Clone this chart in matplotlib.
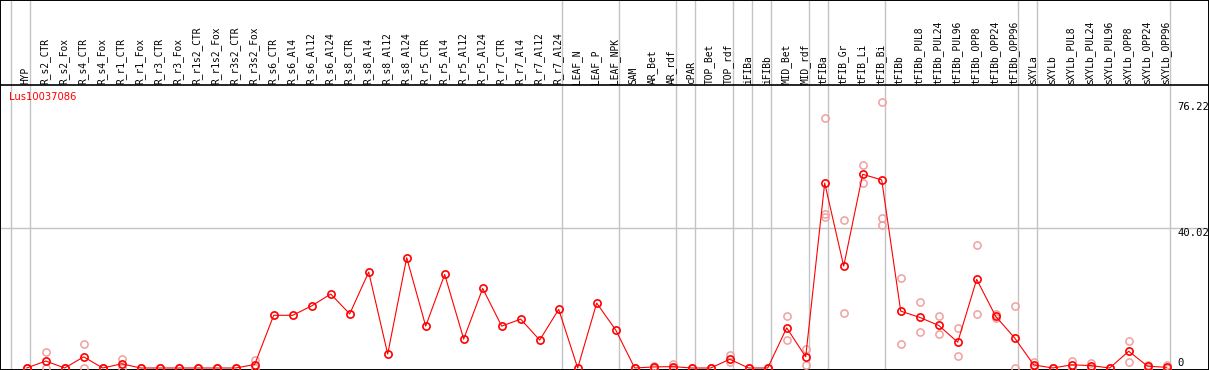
import matplotlib
matplotlib.use("Agg")
import matplotlib.pyplot as plt
import matplotlib.transforms as mtransforms

# sample columns, left to right
samples = [
    "HYP",
    "R_s2_CTR", "R_s2_Fox", "R_s4_CTR", "R_s4_Fox", "R_r1_CTR", "R_r1_Fox",
    "R_r3_CTR", "R_r3_Fox", "R_r1s2_CTR", "R_r1s2_Fox", "R_r3s2_CTR", "R_r3s2_Fox",
    "R_s6_CTR", "R_s6_Al4", "R_s6_Al12", "R_s6_Al24",
    "R_s8_CTR", "R_s8_Al4", "R_s8_Al12", "R_s8_Al24",
    "R_r5_CTR", "R_r5_Al4", "R_r5_Al12", "R_r5_Al24",
    "R_r7_CTR", "R_r7_Al4", "R_r7_Al12", "R_r7_Al24",
    "LEAF_N", "LEAF_P", "LEAF_NPK",
    "SAM", "AR_Bet", "AR_rdf",
    "cPAR",
    "TOP_Bet", "TOP_rdf",
    "iFIBa",
    "iFIBb",
    "MID_Bet", "MID_rdf",
    "tFIBa",
    "tFIB_Gr", "tFIB_Li", "tFIB_Bi",
    "tFIBb", "tFIBb_PUL8", "tFIBb_PUL24", "tFIBb_PUL96",
    "tFIBb_OPP8", "tFIBb_OPP24", "tFIBb_OPP96",
    "sXYLa",
    "sXYLb", "sXYLb_PUL8", "sXYLb_PUL24", "sXYLb_PUL96",
    "sXYLb_OPP8", "sXYLb_OPP24", "sXYLb_OPP96",
]

# how many columns in each tissue group (grey separators between groups)
group_sizes = [1, 28, 3, 3, 1, 2, 1, 1, 2, 1, 3, 7, 1, 7]

# mean expression per sample (the red line)
means = [
    0.0,
    2.0, 0.0, 3.2, 0.0, 1.2, 0.0,
    0.0, 0.0, 0.0, 0.0, 0.0, 1.0,
    15.1, 15.1, 17.8, 21.2,
    15.5, 27.5, 4.0, 31.6,
    12.0, 26.8, 8.3, 22.8,
    12.0, 14.0, 8.0, 16.8,
    0.0, 18.6, 10.9,
    0.0, 0.3, 0.4,
    0.0,
    0.0, 2.5,
    0.0,
    0.0,
    11.5, 3.2,
    53.0,
    29.2, 55.5, 53.9,
    16.3, 14.5, 12.2, 7.4,
    25.4, 14.8, 8.6,
    0.9,
    0.0, 0.9, 0.7, 0.0,
    4.8, 0.5, 0.2,
]

# individual replicates (pale circles)
replicates = [
    [0, 0],
    [4.6, 0], [0, 0], [6.8, 0], [0, 0], [2.7, 0], [0, 0],
    [0, 0], [0, 0], [0, 0], [0, 0], [0, 0], [2.3, 0],
    [], [], [], [],
    [], [], [], [],
    [], [], [], [],
    [], [], [], [],
    [], [], [],
    [0, 0], [0.5, 0.1], [1.2, 0],
    [0, 0],
    [0, 0], [3.6, 1.6],
    [0, 0],
    [0, 0],
    [14.8, 8.0], [5.5, 0.8],
    [71.5, 44.0, 43.4],
    [42.3, 15.8], [58.1, 52.9], [76.22, 43.1, 41.1],
    [25.7, 6.8], [18.8, 10.2], [14.8, 9.7], [11.4, 3.4],
    [35.2, 15.4], [15.5, 14.2], [17.7, 0.0],
    [1.8, 0.4],
    [0, 0], [2.0, 0], [1.5, 0], [0, 0],
    [7.7, 1.8], [0.9, 0.1], [0.8, 0],
]

gene = "Lus10037086"
y_ticks = [76.22, 40.02, 0]

# figure: 1209 x 370 px, one axes covering all of it
W, H = 1209, 370
fig = plt.figure(figsize=(W / 100, H / 100), dpi=100)
ax = fig.add_axes([0, 0, 1, 1])

col_px, x0_px = 19.0, 26.7          # column pitch and first column centre
ppu, zero_px = 3.49, 2.0            # pixels per unit, baseline above bottom
ax.set_xlim(-x0_px / col_px, (W - x0_px) / col_px)
ax.set_ylim(-zero_px / ppu, (H - zero_px) / ppu)
ax.set_xticks([])
ax.set_yticks([])
for s in ax.spines.values():
    s.set_color("black")
    s.set_linewidth(1.4)

red = "#ff0000"
pale = "#f0a0a0"
grey = "#c4c4c4"
top_frac = (H - 85.3) / H   # line under the sample names

# group separators, full height
start = 0
bounds = [0]
for g in group_sizes:
    start += g
    bounds.append(start)
for b in bounds:
    ax.axvline(b - 0.81, color=grey, lw=1.0, zorder=1)

ax.axhline(40.02, color=grey, lw=1.0, zorder=1)
ax.axhline(ax.get_ylim()[0] + (ax.get_ylim()[1] - ax.get_ylim()[0]) * top_frac,
           color="black", lw=1.2, zorder=2)

# replicate circles
for i, reps in enumerate(replicates):
    if reps:
        ax.plot([i] * len(reps), reps, linestyle="none", marker="o", ms=5.2,
                mfc="none", mec=pale, mew=1.1, zorder=3, clip_on=False)

# mean line
xs = list(range(len(samples)))
ax.plot(xs, means, color=red, lw=0.8, marker="o", ms=5.2, mfc="none",
        mec=red, mew=1.2, zorder=4, clip_on=False)

# sample names, rotated
lab_tr = mtransforms.blended_transform_factory(ax.transData, ax.transAxes)
for i, name in enumerate(samples):
    ax.text(i - 0.05, (H - 84) / H, name, rotation=90, ha="center", va="bottom",
            fontsize=6.9, family="DejaVu Sans Mono", transform=lab_tr)

# gene name
ax.text(9.5 / W, (H - 92) / H, gene, color=red, fontsize=7.2,
        family="DejaVu Sans", ha="left", va="top", transform=ax.transAxes)

# value labels on the right
tick_tr = mtransforms.blended_transform_factory(ax.transAxes, ax.transData)
for v in y_ticks:
    ax.text(1177.5 / W, v, f"{v:g}" if v else "0", fontsize=7.6,
            family="DejaVu Sans Mono", ha="left",
            va="bottom" if v == 0 else "top", transform=tick_tr)

fig.savefig("out.png", dpi=100)
